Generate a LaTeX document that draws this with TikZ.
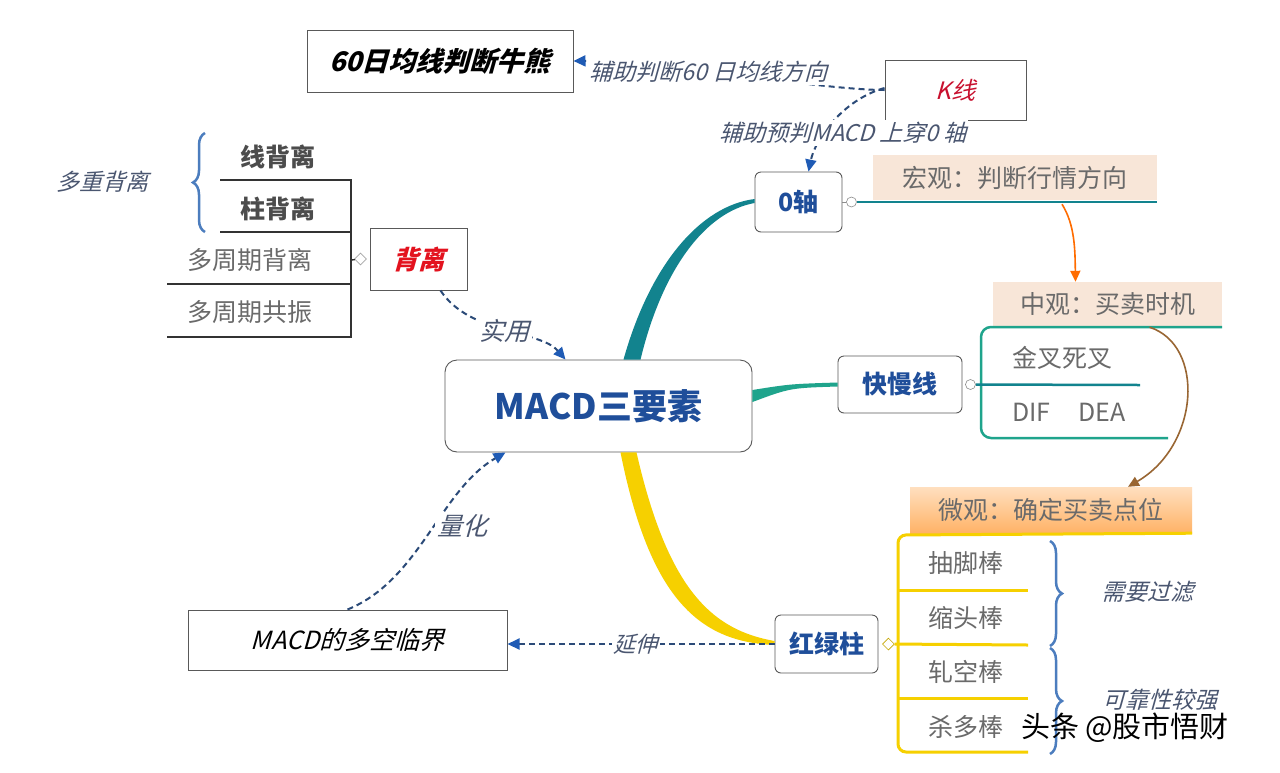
\documentclass[tikz,border=0pt]{standalone}
\usepackage{fontspec}
\setmainfont{Noto Sans CJK SC}[
  BoldFont={Noto Sans CJK SC/B},
  ItalicFont={Noto Sans CJK SC}, ItalicFeatures={FakeSlant=0.28},
  BoldItalicFont={Noto Sans CJK SC/B}, BoldItalicFeatures={FakeSlant=0.28}]
\usetikzlibrary{arrows.meta,decorations.pathreplacing,shapes.geometric}
\definecolor{nodeblue}{HTML}{1F4E9A}
\definecolor{linkblue}{HTML}{2B4A78}
\definecolor{tipblue}{HTML}{1F5BB5}
\definecolor{labgray}{HTML}{4A5670}
\definecolor{txtgray}{HTML}{6A6A6A}
\definecolor{tealA}{HTML}{12838E}
\definecolor{tealB}{HTML}{1FA48C}
\definecolor{gold}{HTML}{F6D000}
\definecolor{bracecol}{HTML}{4C7DBE}
\definecolor{kred}{HTML}{C8102E}
\definecolor{bred}{HTML}{E3121E}
\definecolor{peach}{HTML}{F8E6D8}
\tikzset{
  topic/.style={draw=black!65,fill=white,rounded corners=6pt,line width=0.9pt,inner sep=0pt,
    font=\fontsize{25}{25}\selectfont\bfseries,text=nodeblue},
  plainbox/.style={draw=black!65,fill=white,line width=1pt,inner sep=0pt},
  link/.style={linkblue,line width=2pt,dash pattern=on 6pt off 4pt,
    -{Triangle[length=12pt,width=11pt,color=tipblue]}},
  lab/.style={font=\fontsize{22}{22}\selectfont\itshape,text=labgray,fill=white,inner sep=2pt},
  sub/.style={font=\fontsize{25}{25}\selectfont,text=txtgray,inner sep=0pt},
  knob/.style={circle,draw=black!45,fill=white,line width=0.6pt,minimum size=10pt,inner sep=0pt},
  curly/.style={decorate,decoration={brace,amplitude=12pt},bracecol,line width=2.5pt},
}
\begin{document}
\begin{tikzpicture}[x=1pt,y=-1pt]
\useasboundingbox[fill=white] (0,0) rectangle (1280,772);
% branches out of the centre
\node[topic,rounded corners=12pt,minimum width=307pt,minimum height=92pt,
  font=\fontsize{35}{35}\selectfont\bfseries] (macd) at (598.5,406) {MACD三要素};
\node[topic,minimum width=87pt,minimum height=60pt] (zero) at (798.5,202) {0轴};
\node[topic,minimum width=124pt,minimum height=57pt] (kuai) at (900,384.5) {快慢线};
\node[topic,minimum width=103pt,minimum height=58pt] (hong) at (826.5,644) {红绿柱};
\fill[tealA] ([xshift=25]macd.north) .. controls (650,265) and (700,206) .. ([yshift=3]zero.west)
  -- ([yshift=-1]zero.west) .. controls (705,212) and (662,270) .. ([xshift=42]macd.north) -- cycle;
\fill[tealB] ([yshift=16]macd.east) .. controls (790,384) .. ([yshift=2]kuai.west)
  -- ([yshift=-2]kuai.west) .. controls (790,388) .. ([yshift=4]macd.east) -- cycle;
\fill[gold] ([xshift=22]macd.south) .. controls (650,600) and (700,642) .. ([yshift=-1]hong.west)
  -- ([yshift=3]hong.west) .. controls (712,630) and (668,590) .. ([xshift=38]macd.south) -- cycle;
% boxes round the tree
\node[plainbox,minimum width=266pt,minimum height=62pt,
  font=\fontsize{27}{27}\selectfont\bfseries\itshape] (ma60) at (440,61) {60日均线判断牛熊};
\node[plainbox,minimum width=141pt,minimum height=60pt,
  font=\fontsize{24}{24}\selectfont\itshape,text=kred] (kline) at (955.5,90) {K线};
\node[plainbox,minimum width=97pt,minimum height=62pt,
  font=\fontsize{26}{26}\selectfont\bfseries\itshape,text=bred] (beili) at (418.5,259) {背离};
\node[plainbox,minimum width=319pt,minimum height=60pt,
  font=\fontsize{25}{25}\selectfont\itshape] (duokong) at (347.5,640) {MACD的多空临界};
% dashed links
\draw[link] (kline.west) .. controls (820,90) and (650,60) .. (ma60.east)
  node[lab,pos=0.57,font=\fontsize{23}{23}\selectfont\itshape] {辅助判断60 日均线方向};
\draw[link] ([yshift=2]kline.west) .. controls (842,100) and (815,140) .. ([xshift=10]zero.north);
\node[lab,font=\fontsize{23}{23}\selectfont\itshape] (ylab) at (843,133) {辅助预判MACD 上穿0 轴};
\draw[link] ([xshift=22]beili.south) .. controls (470,335) and (540,330) .. ([xshift=-33]macd.north)
  node[lab,pos=0.5,font=\fontsize{25}{25}\selectfont\itshape] {实用};
\draw[link] (duokong.north) .. controls (420,580) and (440,490) .. ([xshift=-93]macd.south);
\node[lab,font=\fontsize{25}{25}\selectfont\itshape] (qlab) at (462,526) {量化};
\draw[link] (hong.west) -- (duokong.east |- hong.west)
  node[lab,pos=0.52] {延伸};
% 0轴 side
\node[sub,fill=peach,minimum width=284pt,minimum height=45pt] (hongguan) at (1015,177.5) {宏观：判断行情方向};
\node[knob] (k0) at ([xshift=9]zero.east) {};
\coordinate (e0) at (1157,202);
\draw[tealA,line width=2.5pt] (k0) -- (e0);
\draw[black!45,line width=0.6pt] (zero.east) -- (k0.west);
% 快慢线 side
\node[sub,fill=peach,minimum width=229pt,minimum height=45pt] (zhongguan) at (1107.5,304.5) {中观：买卖时机};
\node[knob] (k1) at ([xshift=8]kuai.east) {};
\draw[tealB,line width=2.5pt,rounded corners=10pt] (zhongguan.south east) -- (981,327) -- (981,438) -- (1168,438);
\draw[tealA,line width=2.5pt] (k1) -- (1140,385);
\node[sub,anchor=west] (jc) at (1012,358) {金叉死叉};
\node[sub,anchor=west] (dif) at (1012,412) {DIF\hspace{28pt}DEA};
\draw[orange!85!red,line width=1.6pt,-{Triangle[length=11pt,width=10pt]}]
  ([xshift=47,yshift=-4]hongguan.south) .. controls (1075,225) and (1075,250) .. ([xshift=-32]zhongguan.north);
% 红绿柱 side
\node[sub,top color=orange!25,bottom color=orange!60,minimum width=282pt,minimum height=46pt] (weiguan) at (1051,510) {微观：确定买卖点位};
\draw[brown!80!black,line width=1.6pt,-{Triangle[length=11pt,width=10pt]}]
  ([xshift=42]zhongguan.south) .. controls (1205,345) and (1200,445) .. ([xshift=77]weiguan.north);
\node[knob,diamond,draw=gold!80!black,minimum size=12pt] (k2) at ([xshift=10]hong.east) {};
\draw[gold,line width=3pt,rounded corners=8pt] (weiguan.south east) -- (898,535) -- (898,752) -- (1028,752);
\foreach \yy in {590,698} \draw[gold,line width=3pt] (898,\yy) -- (1028,\yy);
\draw[gold,line width=3pt] (k2) -- (1028,645);
\foreach \tx/\yy in {抽脚棒/563,缩头棒/618,轧空棒/672,杀多棒/727}
  \node[sub,anchor=west] at (928,\yy) {\tx};
\draw[curly] (1050,541) -- (1050,646);
\draw[curly] (1050,648) -- (1050,754);
\node[lab,fill=none,font=\fontsize{23}{23}\selectfont\itshape] (glv) at (1147,592) {需要过滤};
\node[lab,fill=none,font=\fontsize{23}{23}\selectfont\itshape] (kkx) at (1160,700) {可靠性较强};
% 背离 side
\node[knob,diamond,minimum size=12pt,draw=black!35] (k3) at ([xshift=-9]beili.west) {};
\draw[black!80,line width=1.4pt] (k3) -- (351,260);
\draw[black!80,line width=1.4pt] (220,180) -| (351,337) -- (167,337);
\draw[black!80,line width=1.4pt] (220,232) -- (351,232);
\draw[black!80,line width=1.4pt] (167,284) -- (351,284);
\node[sub,font=\fontsize{25}{25}\selectfont\bfseries,text=black!70] (xbl) at (278,157) {线背离};
\node[sub,font=\fontsize{25}{25}\selectfont\bfseries,text=black!70] (zbl) at (278,209) {柱背离};
\node[sub] (dzq) at (250,260) {多周期背离};
\node[sub] (gz) at (250,312) {多周期共振};
\draw[curly] (205,232) -- (205,133);
\node[lab,fill=none,font=\fontsize{23}{23}\selectfont\itshape] (dcbl) at (102,182) {多重背离};
% watermark
\node[font=\fontsize{29}{29}\selectfont] (wm) at (1125,728) {头条 @股市悟财};
\end{tikzpicture}
\end{document}
